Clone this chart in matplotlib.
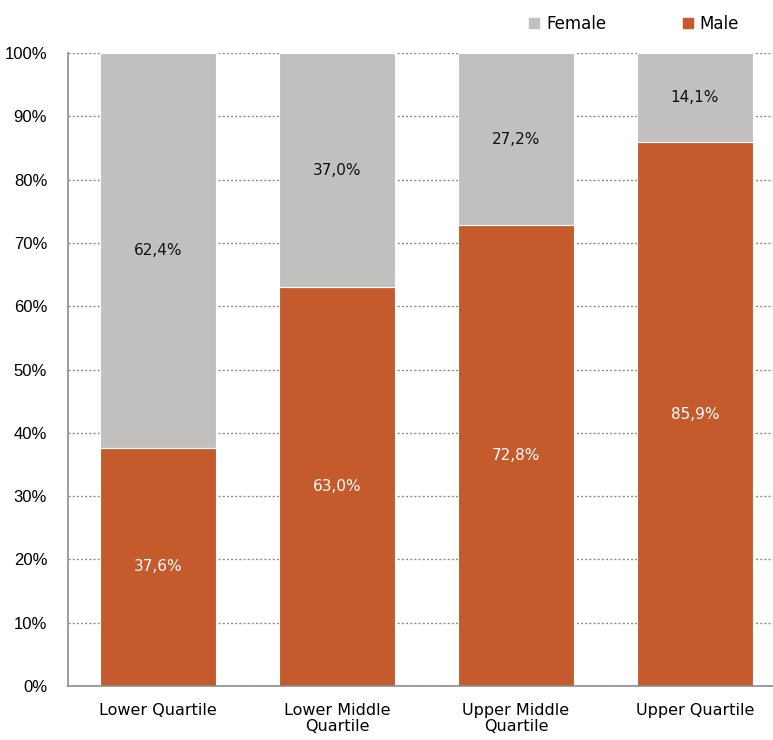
import matplotlib.pyplot as plt
import numpy as np
from matplotlib.patches import Patch

# Data
categories = ['Lower Quartile', 'Lower Middle\nQuartile', 'Upper Middle\nQuartile', 'Upper Quartile']
male = [37.6, 63.0, 72.8, 85.9]
female = [62.4, 37.0, 27.2, 14.1]
yticks = [0, 10, 20, 30, 40, 50, 60, 70, 80, 90, 100]

male_color = '#C55A2D'
female_color = '#C1C0BF'

fig = plt.figure(figsize=(7.73, 7.40), dpi=100)
ax = fig.add_axes([68 / 773, 1 - 686 / 740, 1 - 68 / 773, (686 - 53) / 740])

x = np.arange(len(categories))
w = 0.65
ax.bar(x, male, w, color=male_color, edgecolor='white', linewidth=0.8, zorder=2)
ax.bar(x, female, w, bottom=male, color=female_color, edgecolor='white', linewidth=0.8, zorder=2)

# Data labels
for i in range(len(categories)):
    ax.text(x[i], male[i] / 2, f'{male[i]:.1f}%'.replace('.', ','), ha='center', va='center',
            color='white', fontsize=11, family='DejaVu Sans')
    ax.text(x[i], male[i] + female[i] / 2, f'{female[i]:.1f}%'.replace('.', ','), ha='center', va='center',
            color='#111111', fontsize=11, family='DejaVu Sans')

ax.set_xlim(-0.503, 3.436)
ax.set_ylim(0, 100)
ax.set_yticks(yticks)
ax.set_yticklabels([f'{t}%' for t in yticks], family='Liberation Sans', fontsize=12)
ax.set_xticks(x)
ax.set_xticklabels(categories, family='DejaVu Sans', fontsize=11.5, linespacing=1.1)
ax.tick_params(axis='x', length=0, pad=12)
ax.tick_params(axis='y', length=0, pad=15)

ax.yaxis.grid(True, linestyle=(0, (1.5, 1.5)), color='#8c8c8c', linewidth=1, zorder=0)
ax.set_axisbelow(True)
for s in ['top', 'right']:
    ax.spines[s].set_visible(False)
for s in ['left', 'bottom']:
    ax.spines[s].set_color('#8c8c8c')
    ax.spines[s].set_linewidth(1.2)

handles = [Patch(color=female_color, label='Female'), Patch(color=male_color, label='Male')]
fig.legend(handles=handles, loc='center', bbox_to_anchor=(634 / 773, 1 - 24 / 740), ncol=2,
           frameon=False, prop={'family': 'DejaVu Sans', 'size': 12}, handlelength=0.6,
           handleheight=0.6, handletextpad=0.4, columnspacing=4.6)

plt.savefig('out.png')
